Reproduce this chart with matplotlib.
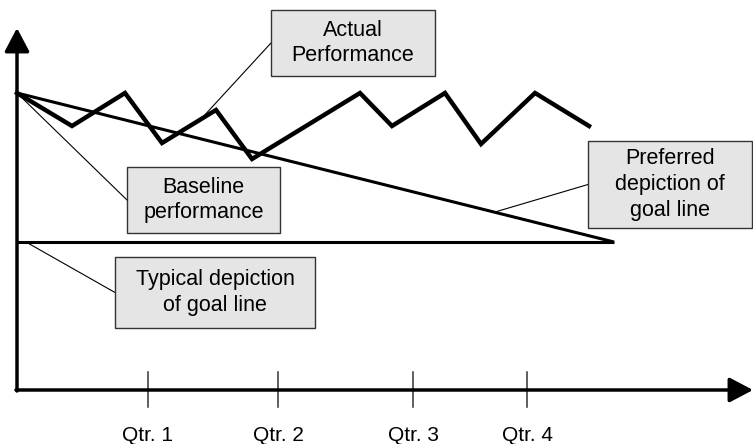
import matplotlib.pyplot as plt
from matplotlib.patches import Rectangle

plt.rcParams['font.family'] = ['Liberation Sans', 'DejaVu Sans']

# Данные (произвольные единицы: время по X, уровень по Y)
actual_x = [0, 5.5, 10.8, 14.5, 19.9, 23.5, 34.3, 37.5, 42.8, 46.4, 51.8, 57.2]
actual_y = [29.7, 26.4, 29.7, 24.7, 28.0, 23.1, 29.7, 26.4, 29.7, 24.6, 29.7, 26.4]
goal_x = [0, 59.7]
preferred_goal_y = [29.7, 14.8]
typical_goal_y = [14.8, 14.8]
quarter_x = [13.1, 26.1, 39.6, 51.0]
quarter_labels = ['Qtr. 1', 'Qtr. 2', 'Qtr. 3', 'Qtr. 4']

# Выноски: текст, центр блока, ширина, высота, точка, куда указывает линия
callouts = [
    ('Actual\nPerformance', (33.6, 34.7), 16.4, 6.6, (18.5, 27.2)),
    ('Baseline\nperformance', (18.65, 19.0), 15.3, 6.6, (0, 29.7)),
    ('Typical depiction\nof goal line', (19.8, 9.75), 20.0, 7.1, (0.9, 14.8)),
    ('Preferred\ndepiction of\ngoal line', (65.3, 20.55), 16.4, 8.7, (47.8, 17.8)),
]

fig = plt.figure(figsize=(7.53, 4.44), dpi=100)
ax = fig.add_axes([0, 0, 1, 1])
ax.set_xlim(-1.7, 73.6)
ax.set_ylim(-5.4, 39.0)
ax.axis('off')

# Оси со стрелками
arrow = dict(arrowstyle='-|>,head_length=1.44,head_width=0.76', mutation_scale=10,
             color='black', lw=2.5, shrinkA=0, shrinkB=0)
ax.annotate('', xy=(0, 36.2), xytext=(0, -0.1), arrowprops=arrow)
ax.annotate('', xy=(73.6, 0), xytext=(-0.1, 0), arrowprops=arrow)

# Отметки кварталов
for qx, label in zip(quarter_x, quarter_labels):
    ax.plot([qx, qx], [-1.7, 1.8], color='#333333', lw=1.1)
    ax.text(qx, -4.5, label, ha='center', va='center', fontsize=15)

# Линии
ax.plot(goal_x, typical_goal_y, color='black', lw=2.2, solid_capstyle='butt')
ax.plot(goal_x, preferred_goal_y, color='black', lw=2.2, solid_capstyle='butt')
ax.plot(actual_x, actual_y, color='black', lw=3.2, solid_joinstyle='miter')

# Выноски
for text, (cx, cy), w, h, (tx, ty) in callouts:
    ax.plot([cx - w / 2, tx], [cy, ty], color='black', lw=0.8, zorder=3)
    ax.add_patch(Rectangle((cx - w / 2, cy - h / 2), w, h, facecolor='#e5e5e5',
                           edgecolor='#333333', lw=1.0, zorder=4))
    ax.text(cx, cy, text, ha='center', va='center', fontsize=15.5,
            linespacing=1.3, zorder=5)

fig.savefig('out.png', dpi=100)
